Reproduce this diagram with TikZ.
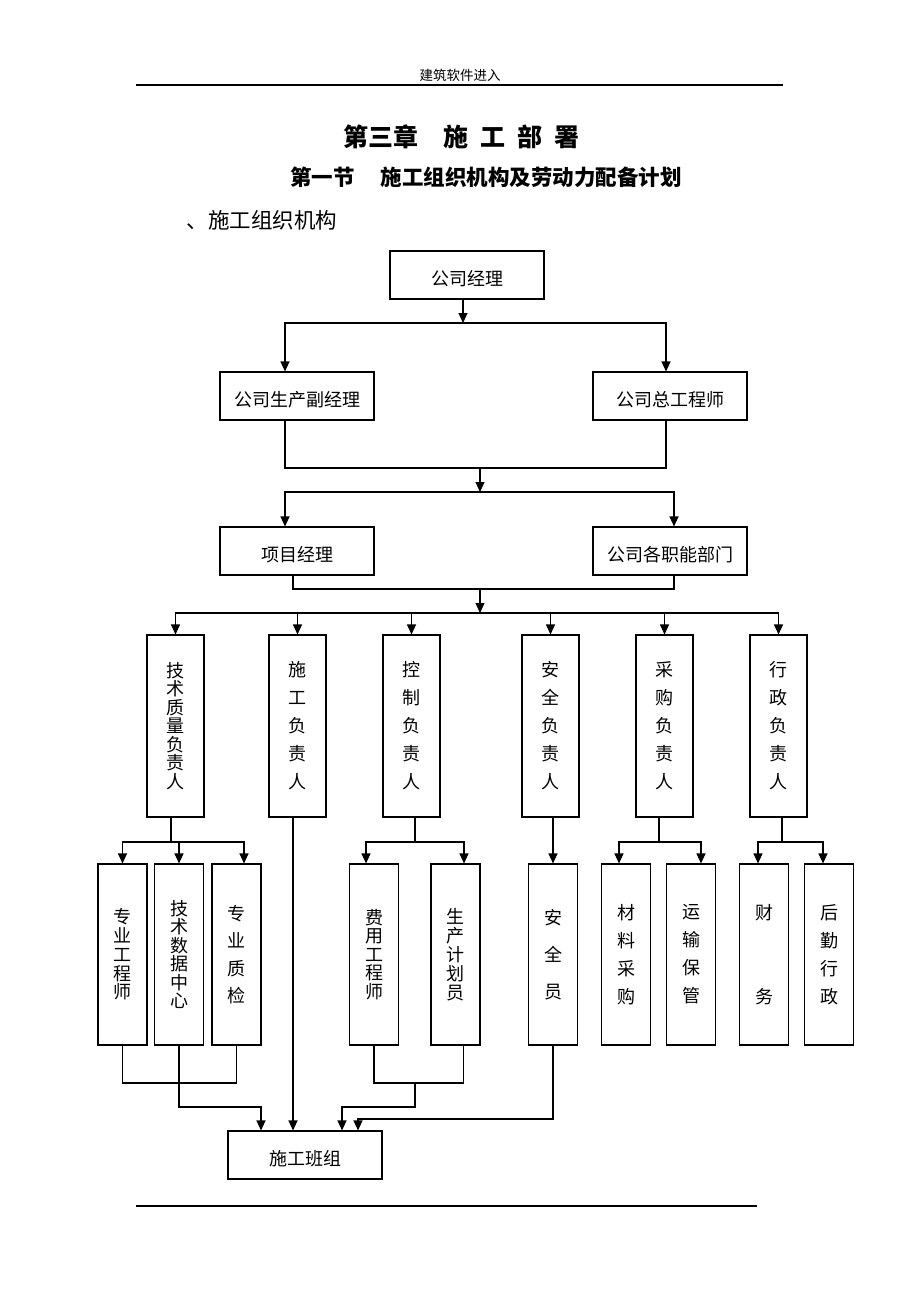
\documentclass[tikz,border=0pt]{standalone}
\usepackage{fontspec}
\setmainfont{Noto Sans CJK SC}
\usetikzlibrary{arrows.meta}

\begin{document}
\begin{tikzpicture}[x=1pt,y=-1pt,line width=1.1pt,
	>={Triangle[length=10pt,width=9pt]},
	lbl/.style={inner sep=0pt},
	hbox/.style={draw,minimum width=154pt,minimum height=48pt,inner sep=0pt,text height=21pt,text depth=0pt,font=\fontsize{18}{18}\selectfont},
	vbox/.style={draw,minimum width=57pt,minimum height=182pt,inner sep=0pt,align=center,font=\fontsize{18}{#1}\selectfont},
	sbox/.style={draw,minimum width=49pt,minimum height=181pt,inner sep=0pt,align=center,font=\fontsize{18}{#1}\selectfont}]
	
	\useasboundingbox (0,0) rectangle (920,1302);
	
	% page head
	\node[lbl] (hd) at (460,75) {\fontsize{13.5}{14}\selectfont 建筑软件进入};
	\draw[line width=1.4pt] (136,85) -- (783,85);
	\node[lbl] (t1) at (461.5,137) {\fontsize{25}{25}\selectfont\bfseries 第三章\hspace{1em}施\hspace{0.47em}工\hspace{0.47em}部\hspace{0.47em}署};
	\node[lbl] (t2) at (486,177) {\fontsize{21.5}{22}\selectfont\bfseries 第一节\hspace{1.2em}施工组织机构及劳动力配备计划};
	\node[lbl,anchor=west] (t3) at (186,220) {\fontsize{21.5}{22}\selectfont 、施工组织机构};
	
	% upper levels
	\node[hbox] (gsjl) at (467,275) {公司经理};
	\node[hbox] (fjl) at (297,396) {公司生产副经理};
	\node[hbox] (zgcs) at (670,396) {公司总工程师};
	\node[hbox] (xmjl) at (297,551) {项目经理};
	\node[hbox] (znbm) at (670,551) {公司各职能部门};
	
	% heads
	\node[vbox=18.5] (jszl) at (175.5,726) {技\\术\\质\\量\\负\\责\\人};
	\node[vbox=28] (sgfz) at (297.5,726) {施\\工\\负\\责\\人};
	\node[vbox=28] (kzfz) at (411.5,726) {控\\制\\负\\责\\人};
	\node[vbox=28] (aqfz) at (550.5,726) {安\\全\\负\\责\\人};
	\node[vbox=28] (cgfz) at (664.5,726) {采\\购\\负\\责\\人};
	\node[vbox=28] (xzfz) at (778.5,726) {行\\政\\负\\责\\人};
	
	% staff
	\node[sbox=18.7] (zygcs) at (122.5,954.5) {专\\业\\工\\程\\师};
	\node[sbox=18.4] (jssj) at (179,954.5) {技\\术\\数\\据\\中\\心};
	\node[sbox=27.5] (zyzj) at (236.5,954.5) {专\\业\\质\\检};
	\node[sbox=18.5] (fygcs) at (374,954.5) {费\\用\\工\\程\\师};
	\node[sbox=19] (scjh) at (455.5,954.5) {生\\产\\计\\划\\员};
	\node[sbox=37] (aqy) at (553,954.5) {安\\全\\员};
	\node[sbox=28] (clcg) at (626,954.5) {材\\料\\采\\购};
	\node[sbox=28] (ysbg) at (691,954.5) {运\\输\\保\\管};
	\node[sbox=84] (cw) at (764,954.5) {财\\务};
	\node[sbox=28] (hqxz) at (829,954.5) {后\\勤\\行\\政};
	
	\node[hbox] (bz) at (305,1155) {施工班组};
	
	\draw[line width=1.4pt] (136,1206) -- (757,1206);
	
	% buses
	\coordinate (b1) at (463,323);
	\coordinate (j2) at (480,468);
	\coordinate (b2) at (480,492);
	\coordinate (j3) at (480,589);
	\coordinate (b3) at (480,613);
	
	\draw[->] ([xshift=-4pt]gsjl.south) -- (b1);
	\draw[->] (b1) -| ([xshift=-12pt]fjl.north);
	\draw[->] (b1) -| ([xshift=-4pt]zgcs.north);
	\draw ([xshift=-12pt]fjl.south) |- (j2) -| ([xshift=-4pt]zgcs.south);
	\draw[->] (j2) -- (b2);
	\draw[->] (b2) -| ([xshift=-12pt]xmjl.north);
	\draw[->] (b2) -| ([xshift=4pt]znbm.north);
	\draw ([xshift=-4pt]xmjl.south) |- (j3) -| ([xshift=4pt]znbm.south);
	\draw[->] (j3) -- (b3);
	\foreach \n in {jszl,sgfz,kzfz,aqfz,cgfz,xzfz}
	\draw[->] (b3) -| (\n.north);
	
	% heads to staff
	\coordinate (c1) at (171,842);
	\coordinate (c3) at (415,842);
	\coordinate (c5) at (659,842);
	\coordinate (c6) at (782,842);
	\draw (c1 |- jszl.south) -- (c1);
	\draw[->] (c1) -| (zygcs.north);
	\draw[->] (c1) -| (jssj.north);
	\draw[->] (c1) -| ([xshift=7.5pt]zyzj.north);
	\draw (c3 |- kzfz.south) -- (c3);
	\draw[->] (c3) -| ([xshift=-8pt]fygcs.north);
	\draw[->] (c3) -| ([xshift=8.5pt]scjh.north);
	\draw[->] (aqy.north |- aqfz.south) -- (aqy.north);
	\draw (c5 |- cgfz.south) -- (c5);
	\draw[->] (c5) -| ([xshift=-7pt]clcg.north);
	\draw[->] (c5) -| ([xshift=10pt]ysbg.north);
	\draw (c6 |- xzfz.south) -- (c6);
	\draw[->] (c6) -| ([xshift=-6pt]cw.north);
	\draw[->] (c6) -| ([xshift=-6pt]hqxz.north);
	
	% staff to team
	\coordinate (d1) at (179,1083);
	\coordinate (d3) at (415,1083);
	\coordinate (e1) at (261,1107);
	\coordinate (e3) at (342,1107);
	\coordinate (e4) at (358,1119);
	\draw (zygcs.south) |- (d1) -| (zyzj.south);
	\draw[->] (jssj.south) |- (e1) -- (e1 |- bz.north);
	\draw[->] ([xshift=-4.5pt]sgfz.south) -- ([xshift=-12pt]bz.north);
	\draw (fygcs.south) |- (d3) -| ([xshift=8pt]scjh.south);
	\draw[->] (d3) |- (e3) -- (e3 |- bz.north);
	\draw[->] (aqy.south) |- (e4) -- (e4 |- bz.north);
\end{tikzpicture}
\end{document}
